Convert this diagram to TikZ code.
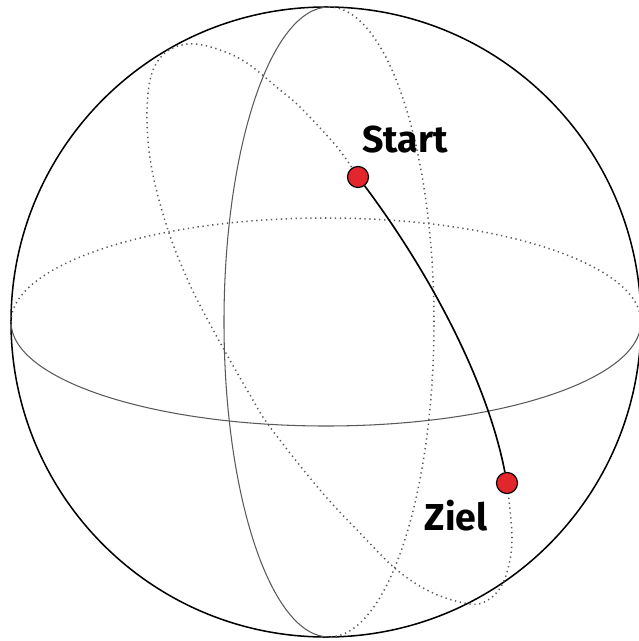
\documentclass[tikz,border=0pt]{standalone}
\usepackage{fontspec}
\setsansfont{Fira Sans}
\definecolor{pin}{HTML}{E3262B}
\begin{document}
\begin{tikzpicture}[x=0.03cm,y=-0.03cm,
  rim/.style={line width=1.3pt,black},
  front/.style={line width=0.9pt,black!65},
  back/.style={line width=1.3pt,black!65,dash pattern=on 1.1pt off 3.1pt},
  pt/.style={circle,draw=black,line width=1pt,fill=pin,minimum size=18pt,inner sep=0pt},
  lbl/.style={font=\sffamily\bfseries\fontsize{32}{38}\selectfont,anchor=base,inner sep=0pt}]
\useasboundingbox (0,0) rectangle (638,641);
\draw[rim] (326,322) circle (315);
% Aequator
\draw[back] (11,322) arc[start angle=180,end angle=360,x radius=315,y radius=104];
\draw[front] (641,322) arc[start angle=0,end angle=180,x radius=315,y radius=104];
% Meridian
\draw[front] (329,637) arc[start angle=90,end angle=270,x radius=105,y radius=315];
\draw[back] (329,7) arc[start angle=-90,end angle=90,x radius=105,y radius=315];
% Grosskreis durch Start und Ziel
\draw[back] plot[smooth,tension=0.6] coordinates {(507,483) (510,510) (512,537) (510,560) (502,585) (488,600) (470,604)
  (433,593) (397,570) (360,533) (320,490) (270,427) (250,395) (217,337) (190,285) (168,230) (152,170) (147,120)
  (150,80) (160,58) (175,47) (195,44) (220,50) (247,63) (280,90) (300,107) (337,147) (358,177)};
\node[pt] (start) at (358,177) {};
\node[pt] (ziel) at (507,483) {};
\draw[line width=1.4pt] (start) .. controls (424,265) and (486,375) .. (ziel);
\node[lbl] (startlbl) at (405,152) {Start};
\node[lbl] (ziellbl) at (456,530) {Ziel};
\end{tikzpicture}
\end{document}
